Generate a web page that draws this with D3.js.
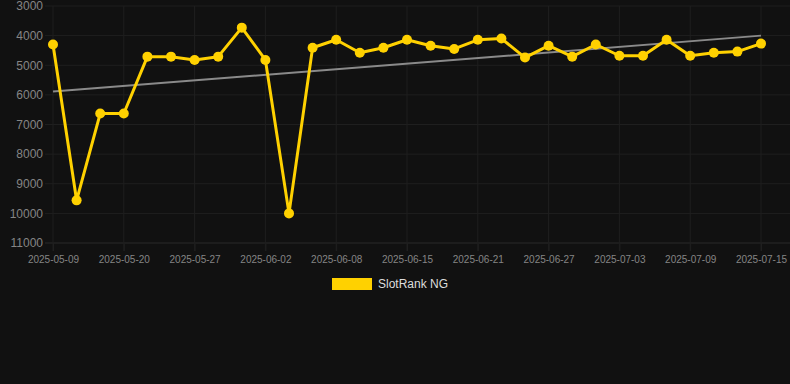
<!DOCTYPE html>
<html>
<head>
<meta charset="utf-8">
<script src="https://cdn.jsdelivr.net/npm/d3@7"></script>
<style>
  html, body { margin: 0; padding: 0; background: #111111; }
  svg { display: block; font-family: "Liberation Sans", Arial, sans-serif; }
</style>
</head>
<body>
<div id="chart"></div>
<script>
// data
const dates = [
  "2025-05-09", "2025-05-13", "2025-05-16", "2025-05-20", "2025-05-22", "2025-05-25",
  "2025-05-27", "2025-05-29", "2025-05-31", "2025-06-02", "2025-06-04", "2025-06-06",
  "2025-06-08", "2025-06-10", "2025-06-13", "2025-06-15", "2025-06-17", "2025-06-19",
  "2025-06-21", "2025-06-23", "2025-06-25", "2025-06-27", "2025-06-29", "2025-07-01",
  "2025-07-03", "2025-07-05", "2025-07-07", "2025-07-09", "2025-07-11", "2025-07-13",
  "2025-07-15"
];
const ranks = [
  4300, 9560, 6630, 6630, 4710, 4710, 4820, 4710, 3730, 4820, 10000, 4410,
  4140, 4580, 4410, 4140, 4340, 4450, 4140, 4100, 4740, 4340, 4710, 4300,
  4680, 4680, 4140, 4680, 4580, 4540, 4270
];
const trendDates = ["2025-05-09", "2025-07-15"];
const trendValues = [5890, 4000];
const xTickLabels = [
  "2025-05-09", "2025-05-20", "2025-05-27", "2025-06-02", "2025-06-08", "2025-06-15",
  "2025-06-21", "2025-06-27", "2025-07-03", "2025-07-09", "2025-07-15"
];
const yTicks = [3000, 4000, 5000, 6000, 7000, 8000, 9000, 10000, 11000];
const seriesName = "SlotRank NG";

const width = 790;
const height = 384;
const plotLeft = 53, plotRight = 761, plotTop = 6, plotBottom = 243;
const yellow = "#ffd100";

const svg = d3.select("#chart")
  .append("svg")
  .attr("width", width)
  .attr("height", height);

svg.append("rect")
  .attr("width", width)
  .attr("height", height)
  .attr("fill", "#111111");

const x = d3.scalePoint()
  .domain(dates)
  .range([plotLeft, plotRight]);

// rank axis: small numbers on top
const y = d3.scaleLinear()
  .domain([3000, 11000])
  .range([plotTop, plotBottom]);

// horizontal grid
svg.append("g")
  .selectAll("line")
  .data(yTicks)
  .join("line")
  .attr("x1", plotLeft - 8)
  .attr("x2", width)
  .attr("y1", d => y(d))
  .attr("y2", d => y(d))
  .attr("stroke", d => d === 11000 ? "#2b2b2b" : "#1f1f1f")
  .attr("stroke-width", 1);

// vertical grid
svg.append("g")
  .selectAll("line")
  .data(xTickLabels)
  .join("line")
  .attr("x1", d => x(d))
  .attr("x2", d => x(d))
  .attr("y1", plotTop)
  .attr("y2", plotBottom + 8)
  .attr("stroke", "#1f1f1f")
  .attr("stroke-width", 1);

// y axis labels
const yAxis = svg.append("g")
  .attr("transform", `translate(${plotLeft},0)`)
  .call(d3.axisLeft(y).tickValues(yTicks).tickFormat(d3.format("d")).tickSize(0).tickPadding(10));
yAxis.select(".domain").remove();
yAxis.selectAll("text")
  .attr("fill", "#858585")
  .style("font-size", "12px");

// x axis labels
const xAxis = svg.append("g")
  .attr("transform", `translate(0,${plotBottom})`)
  .call(d3.axisBottom(x).tickValues(xTickLabels).tickSize(8).tickPadding(5));
xAxis.select(".domain").remove();
xAxis.selectAll("line").attr("stroke", "#1f1f1f");
xAxis.selectAll("text")
  .attr("fill", "#858585")
  .style("font-size", "10px");

// trend line
const trend = trendDates.map((d, i) => ({ date: d, value: trendValues[i] }));
svg.append("path")
  .datum(trend)
  .attr("fill", "none")
  .attr("stroke", "#8a8a8a")
  .attr("stroke-width", 2)
  .attr("d", d3.line().x(d => x(d.date)).y(d => y(d.value)));

// main series
const points = dates.map((d, i) => ({ date: d, value: ranks[i] }));
svg.append("path")
  .datum(points)
  .attr("fill", "none")
  .attr("stroke", yellow)
  .attr("stroke-width", 3)
  .attr("stroke-linejoin", "round")
  .attr("d", d3.line().x(d => x(d.date)).y(d => y(d.value)));

svg.append("g")
  .selectAll("circle")
  .data(points)
  .join("circle")
  .attr("cx", d => x(d.date))
  .attr("cy", d => y(d.value))
  .attr("r", 5)
  .attr("fill", yellow);

// legend
const legend = svg.append("g").attr("transform", "translate(332,278)");
legend.append("rect")
  .attr("width", 40)
  .attr("height", 12)
  .attr("fill", yellow);
legend.append("text")
  .attr("x", 46)
  .attr("y", 6)
  .attr("dy", "0.35em")
  .attr("fill", "#dddddd")
  .style("font-size", "12px")
  .text(seriesName);
</script>
</body>
</html>
